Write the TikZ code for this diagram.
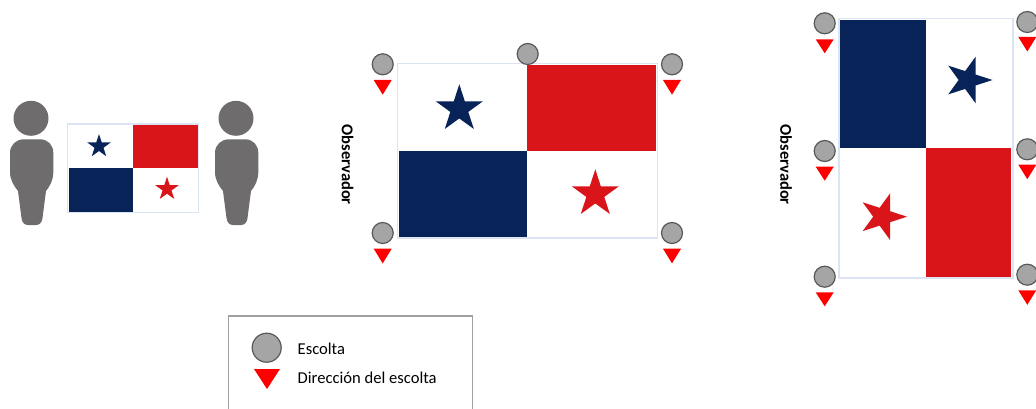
\documentclass[tikz,border=0pt]{standalone}
\usepackage{fontspec}
\setmainfont{Carlito}
\definecolor{flagred}{HTML}{DA1519}
\definecolor{flagnavy}{HTML}{082357}
\definecolor{flagedge}{HTML}{DCE4F4}
\definecolor{persongray}{HTML}{6E6C6C}
\definecolor{escortgray}{HTML}{A5A5A5}
\definecolor{escortedge}{HTML}{595959}
\definecolor{legendedge}{HTML}{A0A0A0}
\tikzset{
  escort/.style={circle,draw=escortedge,fill=escortgray,line width=1.2pt,inner sep=0pt,minimum size=21pt},
  bigescort/.style={escort,minimum size=29pt},
  dirtri/.style={fill=red},
  flagframe/.style={draw=flagedge,fill=white,line width=1.5pt},
  personfill/.style={fill=persongray},
  observer/.style={rotate=-90,font=\fontsize{16.5}{18}\selectfont\bfseries,inner sep=0pt},
  legendtext/.style={anchor=west,font=\fontsize{16.6}{18}\selectfont,inner sep=0pt},
  legendbox/.style={draw=legendedge,line width=1.4pt}
}
% x, y(top), half width, height
\newcommand{\dirmark}[4]{\fill[dirtri] (#1-#3,#2) -- (#1+#3,#2) -- (#1,#2+#4) -- cycle;}
% x, y, radius, rotation, colour
\newcommand{\flagstar}[5]{\fill[#5,shift={(#1,#2)},rotate=#4]
  (-90:#3) -- (-54:#3*0.382) -- (-18:#3) -- (18:#3*0.382) -- (54:#3) -- (90:#3*0.382)
  -- (126:#3) -- (162:#3*0.382) -- (198:#3) -- (234:#3*0.382) -- cycle;}
% x offset
\newcommand{\personshape}[1]{\begin{scope}[shift={(#1,0)}]
  \fill[personfill] (31,118.3) circle (17.5);
  \fill[personfill] (24,139.3) -- (40,139.3) .. controls (48,139.3) and (53.3,145) .. (53.3,153)
    -- (53.3,172) .. controls (53.3,180) and (50,186) .. (46,191)
    -- (42.5,218) .. controls (42,223) and (39,225) .. (36,225)
    -- (28,225) .. controls (25,225) and (22,223) .. (21.5,218)
    -- (18,191) .. controls (14,186) and (10,180) .. (10,172)
    -- (10,153) .. controls (10,145) and (16,139.3) .. (24,139.3) -- cycle;
\end{scope}}
\begin{document}
\begin{tikzpicture}[x=1pt,y=-1pt]
\clip (0,0) rectangle (1036,409);
\fill[white] (0,0) rectangle (1036,409);
% first flag with persons
\personshape{0}
\personshape{205}
\draw[flagframe] (67.7,123.8) rectangle (198.5,212.5);
\fill[flagred] (132.8,124.8) rectangle (197.7,168);
\fill[flagnavy] (68.7,168) rectangle (133,211.5);
\flagstar{99}{146.3}{12.3}{0}{flagnavy}
\flagstar{167}{189}{12.3}{0}{flagred}
% second flag
\draw[flagframe] (397.7,63.7) rectangle (657.3,238);
\fill[flagred] (526.8,65.2) rectangle (656,151);
\fill[flagnavy] (399,151) rectangle (527,237);
\flagstar{459.3}{109}{24.7}{0}{flagnavy}
\flagstar{595.3}{194}{24.7}{0}{flagred}
\node[observer] (obsA) at (347.5,164.7) {Observador};
\node[escort] (e1) at (382.7,64.3) {};
\node[escort] (e2) at (527.7,54) {};
\node[escort] (e3) at (672,64.3) {};
\node[escort] (e4) at (382.7,233) {};
\node[escort] (e5) at (672,233) {};
\dirmark{382.7}{80}{9}{14.7}
\dirmark{672}{80}{9}{14.7}
\dirmark{382.7}{248.7}{9}{14.7}
\dirmark{672}{248.7}{9}{14.7}
% third flag
\draw[flagframe] (838.9,18.6) rectangle (1013.2,278);
\fill[flagnavy] (840,20.3) rectangle (926,148.3);
\fill[flagred] (925.7,148.3) rectangle (1011.3,277);
\flagstar{968}{80}{24.5}{-90}{flagnavy}
\flagstar{882.5}{216.7}{24.5}{-90}{flagred}
\node[observer] (obsB) at (786,164.7) {Observador};
\node[escort] (f1) at (824.7,23.3) {};
\node[escort] (f2) at (824.7,151) {};
\node[escort] (f3) at (824.7,276.7) {};
\node[escort] (f4) at (1027.3,22) {};
\node[escort] (f5) at (1027.3,149.3) {};
\node[escort] (f6) at (1027.3,274.7) {};
\dirmark{824.7}{39.3}{9}{14}
\dirmark{824.7}{166.7}{9}{14}
\dirmark{824.7}{292.3}{9}{14}
\dirmark{1027.3}{37}{9}{14.5}
\dirmark{1027.3}{164.7}{9}{14.5}
\dirmark{1027.3}{290.3}{9}{14.5}
% legend
\draw[legendbox] (228.7,420) -- (228.7,316) -- (472.3,316) -- (472.3,420);
\node[bigescort] (lg) at (266.7,347.7) {};
\dirmark{267}{369}{13}{20}
\node[legendtext] (t1) at (297.5,348.5) {Escolta};
\node[legendtext] (t2) at (297.5,377.5) {Dirección del escolta};
\end{tikzpicture}
\end{document}
